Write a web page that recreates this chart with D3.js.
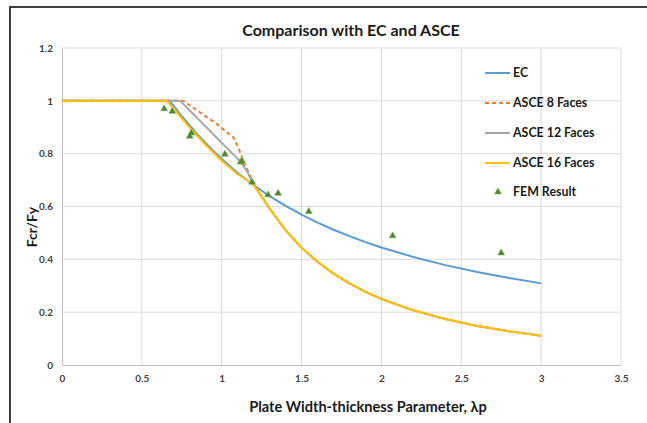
<!DOCTYPE html>
<html>
<head>
<meta charset="utf-8">
<script src="https://cdn.jsdelivr.net/npm/d3@7"></script>
<style>
  body { margin: 0; background: #fff; }
  text { font-family: Lato, "Open Sans", sans-serif; }
</style>
</head>
<body>
<script>
// curve data
var ecX  = [0, 0.673, 0.7, 0.75, 0.8, 0.85, 0.9, 0.95, 1.0, 1.05, 1.1, 1.2, 1.3, 1.4, 1.5, 1.6, 1.7, 1.8, 1.9, 2.0, 2.2, 2.4, 2.6, 2.8, 3.0];
var ecY  = [1, 1, 0.98, 0.942, 0.906, 0.872, 0.84, 0.809, 0.78, 0.753, 0.727, 0.681, 0.639, 0.602, 0.569, 0.539, 0.512, 0.488, 0.465, 0.445, 0.409, 0.378, 0.352, 0.329, 0.309];

var asce8X  = [0, 0.76, 0.865, 0.97, 1.075, 1.106, 1.137, 1.19, 1.25, 1.3, 1.4, 1.5, 1.6, 1.7, 1.8, 1.9, 2.0, 2.2, 2.4, 2.6, 2.8, 3.0];
var asce8Y  = [1, 1, 0.956, 0.912, 0.86, 0.82, 0.77, 0.70, 0.638, 0.592, 0.51, 0.444, 0.391, 0.346, 0.309, 0.277, 0.25, 0.207, 0.174, 0.148, 0.128, 0.111];

var asce12X = [0, 0.74, 1.117, 1.16, 1.19, 1.25, 1.3, 1.4, 1.5, 1.6, 1.7, 1.8, 1.9, 2.0, 2.2, 2.4, 2.6, 2.8, 3.0];
var asce12Y = [1, 1, 0.77, 0.733, 0.692, 0.638, 0.592, 0.51, 0.444, 0.391, 0.346, 0.309, 0.277, 0.25, 0.207, 0.174, 0.148, 0.128, 0.111];

var asce16X = [0, 0.655, 0.7, 0.8, 0.9, 1.0, 1.1, 1.19, 1.25, 1.3, 1.4, 1.5, 1.6, 1.7, 1.8, 1.9, 2.0, 2.2, 2.4, 2.6, 2.8, 3.0];
var asce16Y = [1, 1, 0.97, 0.898, 0.833, 0.773, 0.722, 0.688, 0.638, 0.592, 0.51, 0.444, 0.391, 0.346, 0.309, 0.277, 0.25, 0.207, 0.174, 0.148, 0.128, 0.111];

// FEM points
var femX = [0.64, 0.69, 0.80, 0.81, 1.02, 1.117, 1.127, 1.19, 1.29, 1.353, 1.545, 2.07, 2.75];
var femY = [0.97, 0.96, 0.866, 0.878, 0.798, 0.768, 0.772, 0.692, 0.644, 0.650, 0.581, 0.489, 0.424];

var xTicks = [0, 0.5, 1, 1.5, 2, 2.5, 3, 3.5];
var yTicks = [0, 0.2, 0.4, 0.6, 0.8, 1, 1.2];

var seriesNames = ["EC", "ASCE 8 Faces", "ASCE 12 Faces", "ASCE 16 Faces", "FEM Result"];

//chart frame
var width = 647,
    height = 423;
var margin = {top: 48, right: 26, bottom: 58, left: 62};

var svg = d3.select("body")
    .append("svg")
    .attr("width", width)
    .attr("height", height);

svg.append("rect")
    .attr("x", 10).attr("y", 7)
    .attr("width", 700).attr("height", 500)
    .attr("fill", "none")
    .attr("stroke", "#000")
    .attr("stroke-width", 1.5);

var x = d3.scaleLinear().domain([0, 3.5]).range([margin.left, width - margin.right]);
var y = d3.scaleLinear().domain([0, 1.2]).range([height - margin.bottom, margin.top]);

//gridlines
svg.append("g")
    .selectAll("line.vg")
    .data(xTicks.slice(1))
    .enter().append("line")
    .attr("x1", function(d){ return x(d); })
    .attr("x2", function(d){ return x(d); })
    .attr("y1", y(0)).attr("y2", y(1.2))
    .attr("stroke", "#d9d9d9");

svg.append("g")
    .selectAll("line.hg")
    .data(yTicks.slice(1))
    .enter().append("line")
    .attr("x1", x(0)).attr("x2", x(3.5))
    .attr("y1", function(d){ return y(d); })
    .attr("y2", function(d){ return y(d); })
    .attr("stroke", "#d9d9d9");

//axes
var xAxis = svg.append("g")
    .attr("transform", "translate(0," + y(0) + ")")
    .call(d3.axisBottom(x).tickValues(xTicks).tickSize(0).tickPadding(10).tickFormat(d3.format("")));
var yAxis = svg.append("g")
    .attr("transform", "translate(" + x(0) + ",0)")
    .call(d3.axisLeft(y).tickValues(yTicks).tickSize(0).tickPadding(9).tickFormat(d3.format("")));

[xAxis, yAxis].forEach(function(a){
    a.select(".domain").attr("stroke", "#bfbfbf");
    a.selectAll("text")
        .attr("font-family", "Lato, sans-serif")
        .attr("font-size", 10)
        .attr("font-weight", "bold")
        .attr("fill", "#404040");
});

//lines
function pts(xs, ys){
    return xs.map(function(v, i){ return [v, ys[i]]; });
}
var line = d3.line()
    .x(function(d){ return x(d[0]); })
    .y(function(d){ return y(d[1]); });

var series = [
    {data: pts(ecX, ecY), color: "#5b9bd5", dash: null},
    {data: pts(asce8X, asce8Y), color: "#ed7d31", dash: "4,3"},
    {data: pts(asce12X, asce12Y), color: "#a5a5a5", dash: null},
    {data: pts(asce16X, asce16Y), color: "#ffc000", dash: null}
];

series.forEach(function(s){
    svg.append("path")
        .datum(s.data)
        .attr("d", line)
        .attr("fill", "none")
        .attr("stroke", s.color)
        .attr("stroke-width", 2)
        .attr("stroke-linejoin", "round")
        .attr("stroke-dasharray", s.dash);
});

//FEM markers
var tri = d3.symbol().type(d3.symbolTriangle).size(20);
svg.append("g")
    .selectAll("path")
    .data(pts(femX, femY))
    .enter().append("path")
    .attr("d", tri)
    .attr("transform", function(d){ return "translate(" + x(d[0]) + "," + y(d[1]) + ")"; })
    .attr("fill", "#548235")
    .attr("stroke", "#70ad47")
    .attr("stroke-width", 0.6);

//legend
var legend = svg.append("g");
var legendY = [73, 103, 133, 163, 192];
seriesNames.forEach(function(name, i){
    if (i < 4) {
        legend.append("line")
            .attr("x1", 485).attr("x2", 510)
            .attr("y1", legendY[i]).attr("y2", legendY[i])
            .attr("stroke", series[i].color)
            .attr("stroke-width", 2)
            .attr("stroke-dasharray", series[i].dash);
    } else {
        legend.append("path")
            .attr("d", tri)
            .attr("transform", "translate(498," + legendY[i] + ")")
            .attr("fill", "#548235")
            .attr("stroke", "#70ad47")
            .attr("stroke-width", 0.6);
    }
    legend.append("text")
        .attr("x", 513)
        .attr("y", legendY[i])
        .attr("dy", "0.35em")
        .attr("font-size", 12.4)
        .attr("font-weight", "bold")
        .attr("fill", "#1a1a1a")
        .text(name);
});

//titles
svg.append("text")
    .attr("x", 351).attr("y", 30)
    .attr("dy", "0.35em")
    .attr("text-anchor", "middle")
    .attr("font-size", 16)
    .attr("font-weight", "bold")
    .attr("fill", "#1a1a1a")
    .text("Comparison with EC and ASCE");

svg.append("text")
    .attr("x", 368).attr("y", 407)
    .attr("dy", "0.35em")
    .attr("text-anchor", "middle")
    .attr("font-size", 14.6)
    .attr("font-weight", "bold")
    .attr("fill", "#1a1a1a")
    .text("Plate Width-thickness Parameter, λp");

svg.append("text")
    .attr("transform", "translate(32,227) rotate(-90)")
    .attr("dy", "0.35em")
    .attr("text-anchor", "middle")
    .attr("font-size", 14)
    .attr("font-weight", "bold")
    .attr("fill", "#1a1a1a")
    .text("Fcr/Fy");
</script>
</body>
</html>
